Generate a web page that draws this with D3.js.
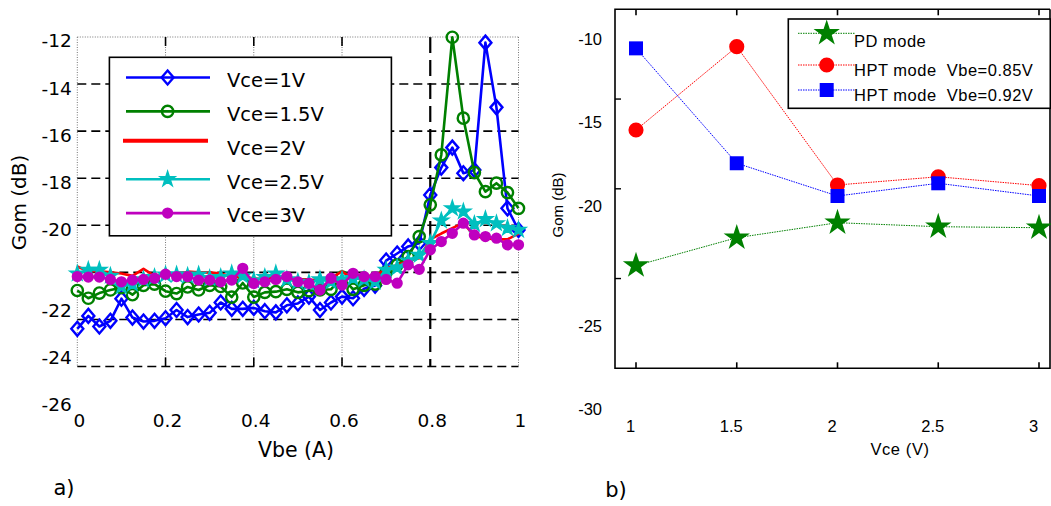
<!DOCTYPE html>
<html><head><meta charset="utf-8">
<script src="https://cdn.jsdelivr.net/npm/d3@7/dist/d3.min.js"></script>
<style>html,body{margin:0;padding:0;background:#fff;} svg{display:block;}</style>
</head><body>
<svg id="chart" width="1051" height="506"></svg>
<script>
// ---------------- data: panel a ----------------
const vbe = [0,0.025,0.05,0.075,0.1,0.125,0.15,0.175,0.2,0.225,0.25,0.275,0.3,0.325,0.35,0.375,0.4,0.425,0.45,0.475,0.5,0.525,0.55,0.575,0.6,0.625,0.65,0.675,0.7,0.725,0.75,0.775,0.8,0.825,0.85,0.875,0.9,0.925,0.95,0.975,1];
const vce1V  = [-24.4,-23.85,-24.3,-24.06,-23.12,-23.92,-24.09,-24.06,-23.95,-23.6,-23.9,-23.79,-23.72,-23.28,-23.55,-23.55,-23.51,-23.65,-23.7,-23.4,-23.32,-23.03,-23.6,-23.28,-23.03,-23.1,-22.7,-22.56,-21.5,-21.2,-20.9,-20.76,-18.71,-17.55,-16.7,-17.79,-17.65,-12.24,-14.99,-19.28,-20.2];
const vce15V = [-22.77,-23.1,-22.88,-22.75,-22.65,-22.95,-22.55,-22.5,-22.8,-22.9,-22.62,-22.75,-22.55,-22.6,-23.05,-22.45,-23.05,-22.85,-22.82,-22.72,-22.85,-22.78,-22.75,-22.72,-22.2,-22.72,-22.55,-22.5,-22.0,-21.68,-21.33,-20.48,-19.13,-17.01,-12.01,-15.45,-17.76,-18.57,-18.21,-18.61,-19.28];
const vce2V  = [-21.75,-21.95,-21.95,-22.0,-22.05,-22.15,-21.85,-22.15,-22.05,-22.1,-21.97,-22.0,-22.0,-22.05,-22.2,-22.2,-22.25,-22.3,-22.15,-22.2,-22.3,-22.3,-22.35,-22.25,-21.96,-22.3,-22.1,-22.2,-21.8,-21.7,-21.5,-21.4,-20.6,-20.35,-20.12,-19.9,-20.45,-20.55,-20.6,-20.6,-20.35];
const vce25V = [-22.05,-21.9,-21.9,-22.15,-22.6,-22.5,-22.3,-22.2,-22.1,-22.1,-22.15,-22.1,-22.25,-22.2,-22.05,-22.15,-22.35,-22.2,-22.05,-22.3,-22.4,-22.45,-22.3,-22.4,-22.3,-22.25,-22.3,-22.4,-21.9,-21.8,-21.5,-21.26,-20.76,-19.8,-19.28,-19.42,-19.95,-19.74,-19.92,-20.12,-20.2];
const vce3V  = [-22.18,-22.2,-22.2,-22.3,-22.4,-22.33,-22.3,-22.25,-22.08,-22.18,-22.18,-22.33,-22.33,-22.4,-22.33,-21.83,-22.47,-22.4,-22.3,-22.18,-22.4,-22.47,-22.75,-22.25,-22.54,-22.04,-22.18,-22.18,-22.3,-22.46,-21.68,-21.87,-21.04,-20.69,-20.34,-19.91,-20.41,-20.48,-20.55,-20.83,-20.83];
const seriesNamesA = ["Vce=1V","Vce=1.5V","Vce=2V","Vce=2.5V","Vce=3V"];
const leftYTicks = [-12,-14,-16,-18,-20,-22,-24,-26];
const leftXTicks = [0,0.2,0.4,0.6,0.8,1];

// ---------------- data: panel b ----------------
const vceB = [1,1.5,2,2.5,3];
const pdMode  = [-23.66,-21.99,-21.09,-21.33,-21.39];
const hpt085  = [-15.54,-10.55,-18.83,-18.34,-18.87];
const hpt092  = [-10.65,-17.53,-19.49,-18.73,-19.49];
const seriesNamesB = ["PD mode","HPT mode  Vbe=0.85V","HPT mode  Vbe=0.92V"];
const rightYTicks = [-10,-15,-20,-25,-30];
const rightXTicks = [1,1.5,2,2.5,3];

const svg = d3.select("#chart");
const FA = "DejaVu Sans";
const FB = "Liberation Sans, Arial, sans-serif";

// ================= panel a =================
const xL = d3.scaleLinear().domain([0,1]).range([77.3,518.5]);
const yL = d3.scaleLinear().domain([-26,-12]).range([366.5,37]);
const gA = svg.append("g");

// vertical grid
gA.selectAll("line.vg").data(leftXTicks).join("line")
  .attr("x1", d=>xL(d)).attr("x2", d=>xL(d)).attr("y1", yL(-12)).attr("y2", yL(-26))
  .attr("stroke", d => d===0.8 ? "#000" : "#777")
  .attr("stroke-width", d => d===0.8 ? 2.2 : 1)
  .attr("stroke-dasharray", d => d===0.8 ? "16,7" : "1,1.5");
// horizontal grid
gA.selectAll("line.hg").data(leftYTicks).join("line")
  .attr("x1", xL(0)).attr("x2", xL(1)).attr("y1", d=>yL(d)).attr("y2", d=>yL(d))
  .attr("stroke", d => d===-12 ? "#777" : "#000")
  .attr("stroke-width", d => d===-12 ? 1 : 1.6)
  .attr("stroke-dasharray", d => d===-12 ? "1,1.5" : "9,5");
// tick marks (inward) top & bottom
[yL(-12), yL(-26)].forEach((yy,k)=>{
  gA.selectAll(null).data(leftXTicks.filter(d=>d>0&&d<0.8)).join("line")
    .attr("x1", d=>xL(d)).attr("x2", d=>xL(d))
    .attr("y1", yy).attr("y2", yy + (k===0 ? 9 : -9))
    .attr("stroke","#000").attr("stroke-width",1.6);
});

// axes labels
const axYL = gA.append("g").attr("transform",`translate(${xL(0)},0)`)
  .call(d3.axisLeft(yL).tickValues(leftYTicks).tickSize(0).tickPadding(5.6).tickFormat(d=>String(d)));
axYL.select(".domain").remove();
axYL.attr("font-family",FA).attr("font-size",18.5);
axYL.selectAll("text").attr("fill","#000").attr("dy","0.35em")
  .attr("y", d => d < -20 ? 38 : 3.5);

const axXL = gA.append("g").attr("transform",`translate(0,${yL(-26)})`)
  .call(d3.axisBottom(xL).tickValues(leftXTicks).tickSize(0).tickFormat(d=>String(d)));
axXL.select(".domain").remove();
axXL.attr("font-family",FA).attr("font-size",18.5);
axXL.selectAll("text").attr("fill","#000").attr("dy","0.35em").attr("y",54.5).attr("dx",1.5);

gA.append("text").attr("transform","translate(18.5,202.5) rotate(-90)")
  .attr("text-anchor","middle").attr("dy","0.35em")
  .attr("font-family",FA).attr("font-size",20).text("Gom (dB)");
gA.append("text").attr("x",296).attr("y",450).attr("dy","0.35em")
  .attr("text-anchor","middle").attr("font-family",FA).attr("font-size",20.5).text("Vbe (A)");

// series
const seriesA = [
  {name:seriesNamesA[0], vals:vce1V,  color:"#0000ff", marker:"diamond"},
  {name:seriesNamesA[1], vals:vce15V, color:"#008000", marker:"circle"},
  {name:seriesNamesA[2], vals:vce2V,  color:"#ff0000", marker:"none"},
  {name:seriesNamesA[3], vals:vce25V, color:"#00bfbf", marker:"star"},
  {name:seriesNamesA[4], vals:vce3V,  color:"#bf00bf", marker:"dot"},
];
const markerPath = {
  diamond: "M0,-7L6,0L0,7L-6,0Z",
  circle: d3.symbol(d3.symbolCircle, 100)(),
  star: d3.symbol(d3.symbolStar, 70)(),
  dot: d3.symbol(d3.symbolCircle, 62)()
};
function drawMarker(sel, s){
  if (s.marker==="none") return;
  const filled = s.marker==="star" || s.marker==="dot";
  sel.attr("d", markerPath[s.marker])
    .attr("fill", filled ? s.color : "none")
    .attr("stroke", s.color).attr("stroke-width", s.marker==="star" ? 1.4 : 2.4);
}
const lineA = d3.line().x((d,i)=>xL(vbe[i])).y(d=>yL(d));
seriesA.forEach(s=>{
  const g = gA.append("g");
  g.append("path").attr("d", lineA(s.vals)).attr("fill","none")
    .attr("stroke", s.color).attr("stroke-width",2.6).attr("stroke-linejoin","round");
  if (s.marker!=="none"){
    g.selectAll("path.m").data(s.vals).join("path")
      .attr("transform",(d,i)=>`translate(${xL(vbe[i])},${yL(d)})`)
      .call(sel=>drawMarker(sel,s));
  }
});

// legend a
const legA = gA.append("g");
legA.append("rect").attr("x",109.4).attr("y",57.3).attr("width",282).attr("height",178.5)
  .attr("fill","#fff").attr("stroke","#000").attr("stroke-width",1.6);
seriesA.forEach((s,k)=>{
  const ry = 77.5 + k*33.9;
  const ly = s.marker==="none" ? ry-4.6 : ry;
  legA.append("line").attr("x1", s.marker==="none"?123:126).attr("x2", s.marker==="none"?208:210)
    .attr("y1",ly).attr("y2",ly).attr("stroke",s.color)
    .attr("stroke-width", s.marker==="none" ? 4 : 2.6);
  if (s.marker!=="none"){
    legA.append("path").attr("transform",`translate(167.6,${ry})`).call(sel=>drawMarker(sel,s));
  }
  legA.append("text").attr("x",227).attr("y",ry+2.5).attr("dy","0.35em")
    .attr("font-family",FA).attr("font-size",19.5).text(s.name);
});

// ================= panel b =================
const xR = d3.scaleLinear().domain([1,3]).range([636,1039]);
const yR = d3.scaleLinear().domain([-30,-10]).range([371.5,37.5]);
const boxB = {l:615, r:1050, t:9.3, b:368.3};
const gB = svg.append("g");

gB.append("path").attr("d",`M${boxB.r},${boxB.t}H${boxB.l}V${boxB.b}H${boxB.r}V${boxB.t}`)
  .attr("fill","none").attr("stroke","#000").attr("stroke-width",1.6);
// x ticks
rightXTicks.forEach(v=>{
  gB.append("line").attr("x1",xR(v)).attr("x2",xR(v)).attr("y1",boxB.t).attr("y2",boxB.t+6).attr("stroke","#000").attr("stroke-width",1.6);
  gB.append("line").attr("x1",xR(v)).attr("x2",xR(v)).attr("y1",boxB.b).attr("y2",boxB.b-6).attr("stroke","#000").attr("stroke-width",1.6);
});
// y ticks: evenly dividing frame
d3.range(1,4).forEach(k=>{
  const yy = boxB.t + k*(boxB.b-boxB.t)/4;
  gB.append("line").attr("x1",boxB.l).attr("x2",boxB.l+6).attr("y1",yy).attr("y2",yy).attr("stroke","#000").attr("stroke-width",1.4);
});

const axYR = gB.append("g").attr("transform",`translate(${boxB.l},0)`)
  .call(d3.axisLeft(yR).tickValues(rightYTicks).tickSize(0).tickPadding(13).tickFormat(d=>String(d)));
axYR.select(".domain").remove();
axYR.attr("font-family",FB).attr("font-size",16.5);
axYR.selectAll("text").attr("fill","#000").attr("dy","0.35em")
  .attr("y", d => d < -20 ? 37.5 : 1);

const axXR = gB.append("g").attr("transform",`translate(0,${boxB.b})`)
  .call(d3.axisBottom(xR).tickValues(rightXTicks).tickSize(0).tickFormat(d=>String(d)));
axXR.select(".domain").remove();
axXR.attr("font-family",FB).attr("font-size",16.5);
axXR.selectAll("text").attr("fill","#000").attr("dy","0.35em").attr("y",58).attr("dx",-6);

gB.append("text").attr("x",900).attr("y",449).attr("dy","0.35em").attr("text-anchor","middle")
  .attr("font-family",FB).attr("font-size",16.5).attr("letter-spacing",0.6)
  .style("white-space","pre").text("Vce (V)");
gB.append("text").attr("transform","translate(558,205) rotate(-90)").attr("text-anchor","middle")
  .attr("dy","0.35em").attr("font-family",FB).attr("font-size",15).text("Gom (dB)");

const seriesB = [
  {name:seriesNamesB[0], vals:pdMode, color:"#008000", shape:d3.symbolStar, size:215},
  {name:seriesNamesB[1], vals:hpt085, color:"#ff0000", shape:d3.symbolCircle, size:180},
  {name:seriesNamesB[2], vals:hpt092, color:"#0000ff", shape:d3.symbolSquare, size:196},
];
const lineB = d3.line().x((d,i)=>xR(vceB[i])).y(d=>yR(d));
seriesB.forEach(s=>{
  gB.append("path").attr("d",lineB(s.vals)).attr("fill","none")
    .attr("stroke",s.color).attr("stroke-width",1).attr("stroke-dasharray","1.5,1");
  gB.selectAll(null).data(s.vals).join("path")
    .attr("transform",(d,i)=>`translate(${xR(vceB[i])},${yR(d)})`)
    .attr("d", d3.symbol(s.shape, s.size)()).attr("fill",s.color);
});

// legend b
const legB = gB.append("g");
legB.append("rect").attr("x",788.3).attr("y",19).attr("width",262).attr("height",89.3)
  .attr("fill","#fff").attr("stroke","#000").attr("stroke-width",1.6);
const legRowsB = [33.3, 65, 90];
const legTextOff = [8.4, 5, 5];
seriesB.forEach((s,k)=>{
  const ry = legRowsB[k];
  legB.append("line").attr("x1",798).attr("x2",855).attr("y1",ry).attr("y2",ry)
    .attr("stroke",s.color).attr("stroke-width",1).attr("stroke-dasharray","1.5,1");
  legB.append("path").attr("transform",`translate(826.7,${ry})`)
    .attr("d", d3.symbol(s.shape, s.size)()).attr("fill",s.color);
  legB.append("text").attr("x",854).attr("y",ry+legTextOff[k]).attr("dy","0.35em")
    .attr("font-family",FB).attr("font-size",16.5).attr("letter-spacing",0.5)
    .style("white-space","pre").text(s.name);
});

// panel captions
svg.append("text").attr("x",64).attr("y",488).attr("dy","0.35em").attr("text-anchor","middle")
  .attr("font-family",FA).attr("font-size",21).text("a)");
svg.append("text").attr("x",616).attr("y",490).attr("dy","0.35em").attr("text-anchor","middle")
  .attr("font-family",FA).attr("font-size",21).text("b)");
</script>
</body></html>
